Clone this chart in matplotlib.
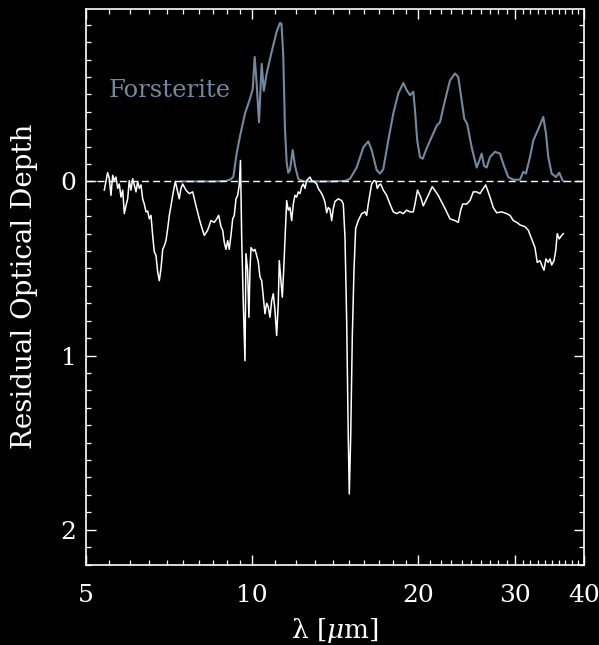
import matplotlib
matplotlib.use('Agg')
import matplotlib.pyplot as plt
from matplotlib.ticker import FixedLocator, FixedFormatter, NullFormatter, MultipleLocator

plt.rcParams['font.family'] = ['DejaVu Serif']
plt.rcParams['mathtext.fontset'] = 'dejavuserif'

# observed residual optical depth
obs_wave = [5.395, 5.433, 5.471, 5.508, 5.548, 5.588, 5.626, 5.665, 5.706, 5.744, 5.785, 5.827, 5.866, 5.907,
            5.949, 5.989, 6.032, 6.075, 6.116, 6.160, 6.203, 6.245, 6.289, 6.334, 6.377, 6.422, 6.468, 6.511,
            6.557, 6.604, 6.649, 6.696, 6.744, 6.789, 6.838, 6.887, 6.933, 6.982, 7.032, 7.079, 7.129, 7.180,
            7.228, 7.259, 7.331, 7.380, 7.433, 7.486, 7.590, 7.695, 7.806, 7.914, 8.024, 8.081, 8.193, 8.310,
            8.426, 8.544, 8.630, 8.702, 8.785, 8.848, 8.907, 8.970, 9.034, 9.094, 9.160, 9.226, 9.288, 9.354,
            9.420, 9.483, 9.531, 9.579, 9.643, 9.712, 9.752, 9.819, 9.872, 9.917, 9.959, 10.055, 10.126, 10.198,
            10.266, 10.340, 10.414, 10.484, 10.558, 10.633, 10.704, 10.781, 10.858, 10.931, 11.008, 11.086,
            11.161, 11.208, 11.288, 11.350, 11.416, 11.478, 11.559, 11.637, 11.721, 11.804, 11.884, 11.968,
            12.053, 12.134, 12.221, 12.308, 12.391, 12.479, 12.567, 12.651, 12.742, 12.833, 13.011, 13.103,
            13.191, 13.380, 13.471, 13.566, 13.662, 13.754, 13.853, 13.951, 14.046, 14.145, 14.341, 14.547,
            14.645, 14.749, 14.853, 14.953, 15.016, 15.104, 15.206, 15.314, 15.421, 15.590, 15.815, 16.034,
            16.147, 16.256, 16.373, 16.489, 16.650, 16.787, 16.877, 17.018, 17.121, 17.308, 17.554, 17.799,
            18.046, 18.303, 18.559, 18.817, 19.084, 19.351, 19.620, 19.759, 19.965, 20.235, 20.456, 20.886,
            21.241, 21.777, 21.935, 22.398, 22.871, 23.354, 23.676, 23.915, 24.118, 24.521, 24.864, 25.210,
            25.568, 25.925, 26.285, 26.550, 27.031, 27.407, 27.796, 28.384, 28.982, 29.387, 29.795, 30.219,
            30.641, 31.288, 31.720, 32.175, 32.622, 32.932, 33.311, 33.548, 33.874, 34.154, 34.484, 34.732,
            34.979, 35.319, 35.566, 35.802, 36.100, 36.471, 36.717]
obs_tau = [0.05, 0.00, -0.05, -0.02, 0.08, -0.035, -0.005, -0.025, 0.04, 0.015, 0.09, 0.05, 0.185, 0.14,
           0.10, -0.005, 0.05, -0.015, 0.02, 0.06, 0.00, 0.04, 0.02, 0.10, 0.13, 0.175, 0.17, 0.215,
           0.195, 0.31, 0.405, 0.425, 0.52, 0.57, 0.50, 0.39, 0.37, 0.34, 0.27, 0.195, 0.14, 0.08,
           0.03, 0.00, 0.06, 0.10, 0.04, 0.015, 0.05, 0.07, 0.06, 0.14, 0.215, 0.25, 0.31, 0.28,
           0.225, 0.235, 0.215, 0.195, 0.26, 0.28, 0.35, 0.39, 0.34, 0.39, 0.31, 0.215, 0.195, 0.10,
           0.08, 0.02, -0.12, 0.32, 0.70, 1.03, 0.415, 0.51, 0.78, 0.51, 0.38, 0.40, 0.39, 0.425,
           0.46, 0.55, 0.57, 0.665, 0.76, 0.70, 0.72, 0.78, 0.685, 0.645, 0.74, 0.885,
           0.70, 0.455, 0.57, 0.665, 0.51, 0.34, 0.11, 0.165, 0.15, 0.225, 0.13, 0.08,
           0.09, 0.06, 0.07, 0.03, 0.015, 0.04, -0.005, -0.015, -0.025, -0.005, 0.005, 0.015,
           0.04, 0.07, 0.09, 0.12, 0.18, 0.15, 0.16, 0.225, 0.155, 0.115, 0.10, 0.11,
           0.13, 0.32, 0.80, 1.47, 1.795, 1.47, 0.895, 0.51, 0.27, 0.225, 0.185, 0.175,
           0.195, 0.13, 0.07, 0.015, -0.005, 0.00, 0.04, 0.02, 0.015, 0.05, 0.08, 0.13,
           0.175, 0.185, 0.175, 0.185, 0.165, 0.175, 0.175, 0.13, 0.05, 0.09, 0.14, 0.08,
           0.03, 0.08, 0.10, 0.155, 0.215, 0.225, 0.235, 0.165, 0.13, 0.13, 0.11, 0.06,
           0.06, 0.07, 0.04, 0.02, 0.09, 0.15, 0.18, 0.175, 0.185, 0.195, 0.225, 0.235,
           0.25, 0.26, 0.28, 0.33, 0.38, 0.465, 0.455, 0.48, 0.51, 0.445, 0.465, 0.445,
           0.48, 0.455, 0.40, 0.30, 0.33, 0.31, 0.30]

# forsterite model (negative = above the zero line)
fo_wave = [7.45, 8.568, 8.970, 9.122, 9.249, 9.380, 9.511, 9.712, 9.917, 10.030, 10.114, 10.198, 10.297,
           10.414, 10.506, 10.633, 10.858, 11.086, 11.241, 11.312, 11.397, 11.478, 11.559, 11.637, 11.721,
           11.855, 11.968, 12.134, 12.391, 13.853, 14.749, 15.060, 15.486, 15.921, 16.256, 16.489, 16.836,
           17.071, 17.308, 17.672, 18.046, 18.428, 18.817, 19.084, 19.351, 19.620, 19.759, 19.945, 20.176,
           20.406, 20.747, 21.186, 21.633, 21.935, 22.398, 22.871, 23.354, 23.676, 24.015, 24.278, 24.578,
           25.041, 25.568, 25.850, 26.109, 26.363, 26.659, 27.031, 27.601, 28.184, 28.576, 29.176, 29.795,
           30.641, 31.067, 31.416, 31.948, 32.392, 33.073, 33.774, 34.154, 34.484, 34.979, 35.611, 36.100,
           36.623, 36.826]
fo_tau = [0.0, 0.0, -0.003, -0.01, -0.025, -0.16, -0.26, -0.39, -0.475, -0.53, -0.715, -0.56, -0.34,
          -0.675, -0.52, -0.62, -0.745, -0.86, -0.91, -0.905, -0.72, -0.30, -0.11, -0.05, -0.065,
          -0.18, -0.09, -0.015, 0.0, 0.0, -0.003, -0.015, -0.08, -0.195, -0.23, -0.18, -0.065,
          -0.045, -0.07, -0.235, -0.39, -0.505, -0.565, -0.525, -0.495, -0.515, -0.41, -0.235, -0.14,
          -0.13, -0.19, -0.255, -0.32, -0.34, -0.465, -0.58, -0.62, -0.60, -0.465, -0.36, -0.33,
          -0.195, -0.08, -0.12, -0.16, -0.09, -0.08, -0.14, -0.17, -0.16, -0.10, -0.025, -0.01,
          -0.01, -0.055, -0.045, -0.14, -0.235, -0.30, -0.37, -0.275, -0.14, -0.045, -0.025, -0.05,
          -0.005, 0.0]

x_major = [5, 10, 20, 30, 40]
x_major_labels = ['5', '10', '20', '30', '40']
x_minor = [5.5, 6, 6.5, 7, 7.5, 8, 8.5, 9, 9.5] + list(range(11, 20)) + list(range(21, 30)) + list(range(31, 40))
y_major = [0, 1, 2]
y_major_labels = ['0', '1', '2']

fo_color = '#7489a0'

fig = plt.figure(figsize=(5.99, 6.45), dpi=100, facecolor='black')
ax = fig.add_axes([0.1437, 0.1248, 0.8309, 0.8612])
ax.set_facecolor('black')

ax.plot(fo_wave, fo_tau, color=fo_color, lw=1.5, zorder=2)
ax.axhline(0, color='white', lw=1.0, ls=(0, (5, 3)), zorder=3)
ax.plot(obs_wave, obs_tau, color='white', lw=1.1, zorder=4)

ax.set_xscale('log')
ax.set_xlim(5, 40)
ax.set_ylim(2.2, -0.99)

ax.xaxis.set_major_locator(FixedLocator(x_major))
ax.xaxis.set_major_formatter(FixedFormatter(x_major_labels))
ax.xaxis.set_minor_locator(FixedLocator(x_minor))
ax.xaxis.set_minor_formatter(NullFormatter())
ax.yaxis.set_major_locator(FixedLocator(y_major))
ax.yaxis.set_major_formatter(FixedFormatter(y_major_labels))
ax.yaxis.set_minor_locator(MultipleLocator(0.1))

for s in ax.spines.values():
    s.set_color('white')
    s.set_linewidth(1.2)

ax.tick_params(which='both', direction='in', top=True, right=True, colors='white')
ax.tick_params(which='major', length=7.5, width=1.0)
ax.tick_params(which='minor', length=3.5, width=0.9)
ax.tick_params(axis='x', which='major', labelsize=18, pad=14)
ax.tick_params(axis='y', which='major', labelsize=18, pad=7)

ax.set_xlabel(r'λ [$\mu$m]', color='white', fontsize=19)
ax.xaxis.set_label_coords(0.5, -0.092)
ax.set_ylabel('Residual Optical Depth', color='white', fontsize=20)
ax.yaxis.set_label_coords(-0.097, 0.5)

ax.text(5.5, -0.487, 'Forsterite', color=fo_color, fontsize=17.5, ha='left', va='baseline')

fig.savefig('out.png', dpi=100, facecolor='black')
